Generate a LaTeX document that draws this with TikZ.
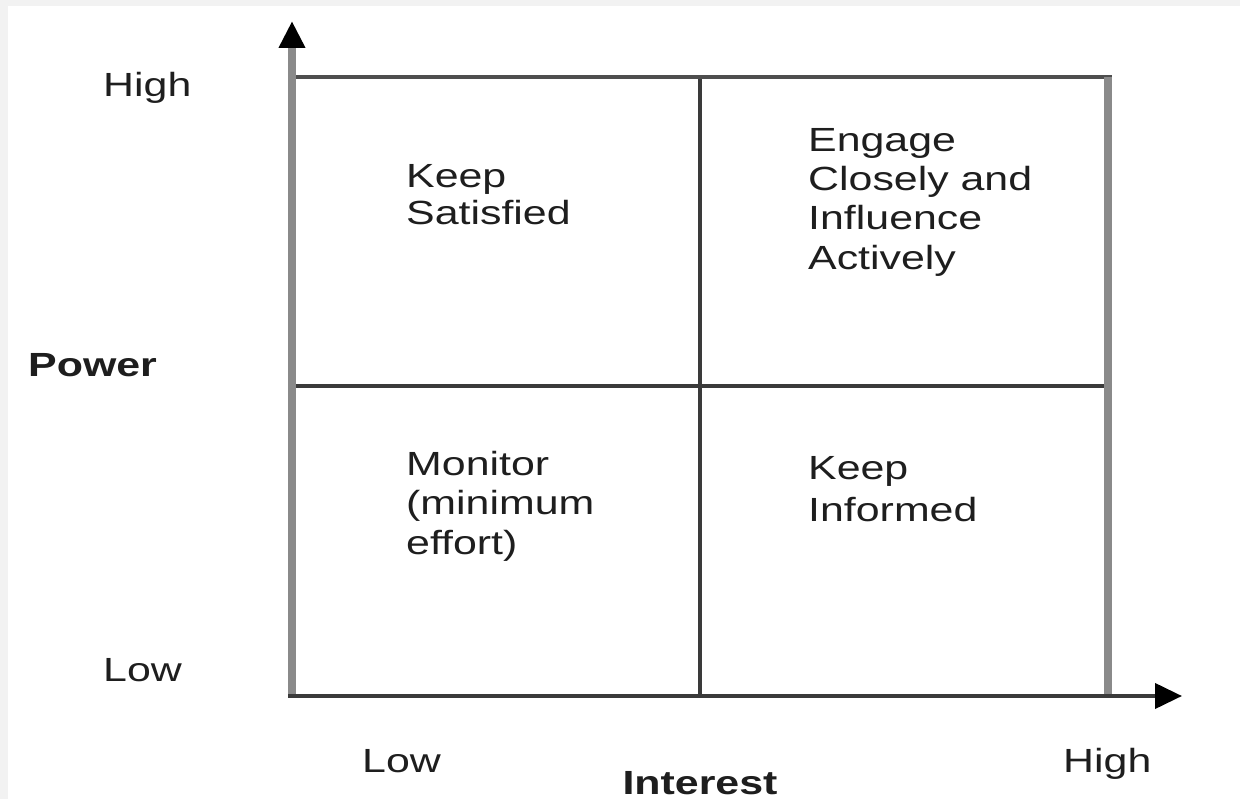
\documentclass[tikz,border=0pt]{standalone}
\usepackage{fontspec}
\setmainfont{Liberation Sans}[FakeStretch=1.28]
\usetikzlibrary{arrows.meta}
\definecolor{bordergray}{HTML}{F2F2F2}
\definecolor{axisgray}{HTML}{8A8A8A}
\definecolor{linedark}{HTML}{3A3A3A}
\definecolor{textdark}{HTML}{1E1E1E}
\begin{document}
\begin{tikzpicture}[x=1pt,y=-1pt,
  lbl/.style={anchor=base west,inner sep=0pt,text=textdark,font=\fontsize{33.5}{38}\selectfont},
  quad/.style={anchor=north west,inner sep=0pt,align=left,text=textdark},
  grayline/.style={draw=axisgray,line width=8pt},
  darkline/.style={draw=linedark,line width=3.5pt},
  tipstyle/.style={-{Triangle[length=27pt,width=25pt,color=black]}}
]
% background and margins
\useasboundingbox (0,0) rectangle (1240,799);
\fill[white] (0,0) rectangle (1240,799);
\fill[bordergray] (0,0) rectangle (1240,6);
\fill[bordergray] (0,0) rectangle (8,799);

% grid coordinates
\coordinate (O) at (292,696);
\coordinate (TL) at (292,77);
\coordinate (Ytip) at (292,21);
\coordinate (Xtip) at (1182,696);
\coordinate (TR) at (1108,77);
\coordinate (BR) at (1108,696);
\coordinate (TM) at (700,77);
\coordinate (BM) at (700,696);
\coordinate (ML) at (292,386);
\coordinate (MR) at (1108,386);

% inner lines
\draw[darkline] (TM) -- (BM);
\draw[darkline] (ML) -- (MR);
\draw[draw=linedark!90!white,line width=4pt] (288,77) -- (1112,77);
\draw[grayline] (TR) -- (BR);

% axes
\draw[grayline,tipstyle] (O) -- (Ytip);
\draw[draw=linedark,line width=4pt,tipstyle] (288,696) -- (Xtip);

% axis labels
\node[lbl] (hiY) at (103,97) {High};
\node[lbl] (loY) at (103,681) {Low};
\node[lbl,font=\fontsize{33.5}{38}\selectfont\bfseries] (power) at (28,377) {Power};
\node[lbl] (loX) at (362,772) {Low};
\node[lbl] (hiX) at (1063,772) {High};
\node[lbl,anchor=base,font=\fontsize{33.5}{38}\selectfont\bfseries] (interest) at (700,794) {Interest};

% quadrant texts
\node[quad,font=\fontsize{33.5}{37}\selectfont] (ks) at (406,164) {Keep\\Satisfied};
\node[quad,font=\fontsize{33.5}{39.3}\selectfont] (ec) at (808,128) {Engage\\Closely and\\Influence\\Actively};
\node[quad,font=\fontsize{33.5}{39.5}\selectfont] (mon) at (406,451) {Monitor\\(minimum\\effort)};
\node[quad,font=\fontsize{33.5}{42}\selectfont] (ki) at (808,456) {Keep\\Informed};
\end{tikzpicture}
\end{document}
